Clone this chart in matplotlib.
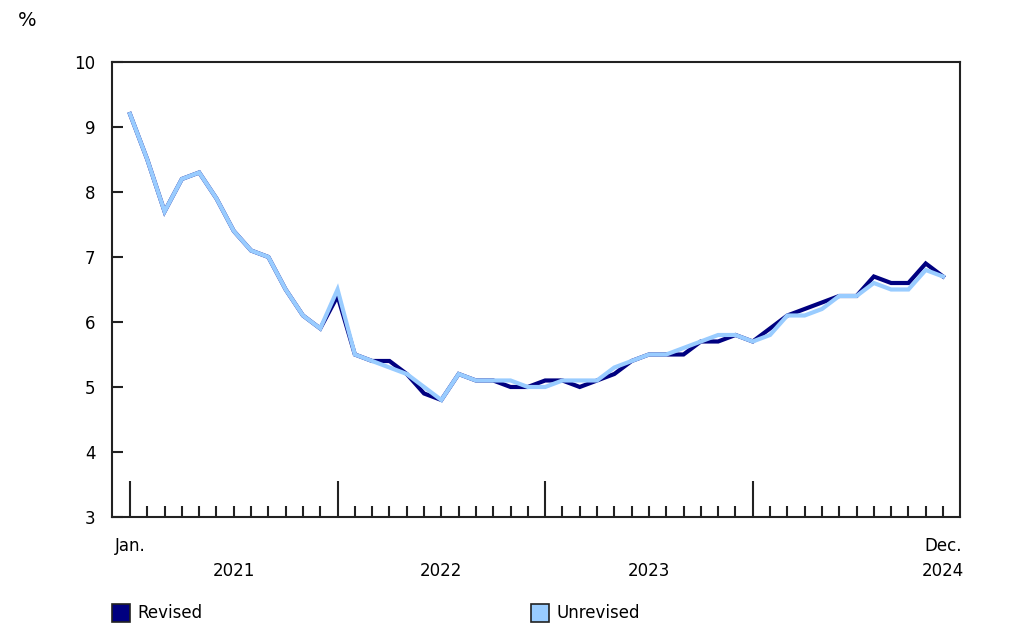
import numpy as np
import matplotlib.pyplot as plt
from matplotlib.patches import Rectangle

# Données (jan. 2021 à déc. 2024)
revised = [9.2, 8.5, 7.7, 8.2, 8.3, 7.9, 7.4, 7.1, 7.0, 6.5, 6.1, 5.9,
           6.4, 5.5, 5.4, 5.4, 5.2, 4.9, 4.8, 5.2, 5.1, 5.1, 5.0, 5.0,
           5.1, 5.1, 5.0, 5.1, 5.2, 5.4, 5.5, 5.5, 5.5, 5.7, 5.7, 5.8,
           5.7, 5.9, 6.1, 6.2, 6.3, 6.4, 6.4, 6.7, 6.6, 6.6, 6.9, 6.7]
unrevised = [9.2, 8.5, 7.7, 8.2, 8.3, 7.9, 7.4, 7.1, 7.0, 6.5, 6.1, 5.9,
             6.5, 5.5, 5.4, 5.3, 5.2, 5.0, 4.8, 5.2, 5.1, 5.1, 5.1, 5.0,
             5.0, 5.1, 5.1, 5.1, 5.3, 5.4, 5.5, 5.5, 5.6, 5.7, 5.8, 5.8,
             5.7, 5.8, 6.1, 6.1, 6.2, 6.4, 6.4, 6.6, 6.5, 6.5, 6.8, 6.7]
years = ['2021', '2022', '2023', '2024']
yticks = [3, 4, 5, 6, 7, 8, 9, 10]

c_rev = '#000080'
c_unrev = '#99CCFF'
fs = 12

plt.rcParams['font.family'] = ['DejaVu Sans']
fig = plt.figure(figsize=(10.18, 6.38), dpi=100)
ax = fig.add_axes([0.110, 0.1897, 0.833, 0.7131])

x = np.arange(len(revised))
ax.plot(x, revised, color=c_rev, lw=3.0, solid_joinstyle='miter')
ax.plot(x, unrevised, color=c_unrev, lw=3.0, solid_joinstyle='miter')

ax.set_xlim(-1.04, 47.98)
ax.set_ylim(3, 10)

for s in ax.spines.values():
    s.set_linewidth(1.5)
    s.set_color('#222222')

ax.set_yticks(yticks)
ax.set_yticklabels([str(v) for v in yticks], fontsize=fs)
ax.tick_params(axis='y', direction='in', length=8, width=1.5, pad=12,
               colors='#222222', labelcolor='black')

# Graduations mensuelles (grandes en janvier)
ax.set_xticks([0, 12, 24, 36])
ax.set_xticks(x, minor=True)
ax.set_xticklabels([])
ax.tick_params(axis='x', which='major', direction='in', length=26, width=1.5,
               colors='#222222')
ax.tick_params(axis='x', which='minor', direction='in', length=8, width=1.5,
               colors='#222222')

trans = ax.get_xaxis_transform()
ax.text(0, -0.045, 'Jan.', transform=trans, ha='center', va='top', fontsize=fs)
ax.text(47, -0.045, 'Dec.', transform=trans, ha='center', va='top', fontsize=fs)
for i, yr in enumerate(years[:3]):
    ax.text(12 * i + 6, -0.1, yr, transform=trans, ha='center', va='top', fontsize=fs)
ax.text(47, -0.1, years[3], transform=trans, ha='center', va='top', fontsize=fs)

fig.text(0.027, 0.968, '%', ha='center', va='center', fontsize=14)

# Légende
for xl, col, lab in [(112, c_rev, 'Revised'), (531, c_unrev, 'Unrevised')]:
    fig.patches.append(Rectangle((xl / 1018, (638 - 622) / 638), 18 / 1018, 18 / 638,
                                 transform=fig.transFigure, facecolor=col,
                                 edgecolor='#222222', lw=1.2))
    fig.text((xl + 25) / 1018, (638 - 613) / 638, lab, ha='left', va='center',
             fontsize=fs)

plt.savefig('out.png', dpi=100)
